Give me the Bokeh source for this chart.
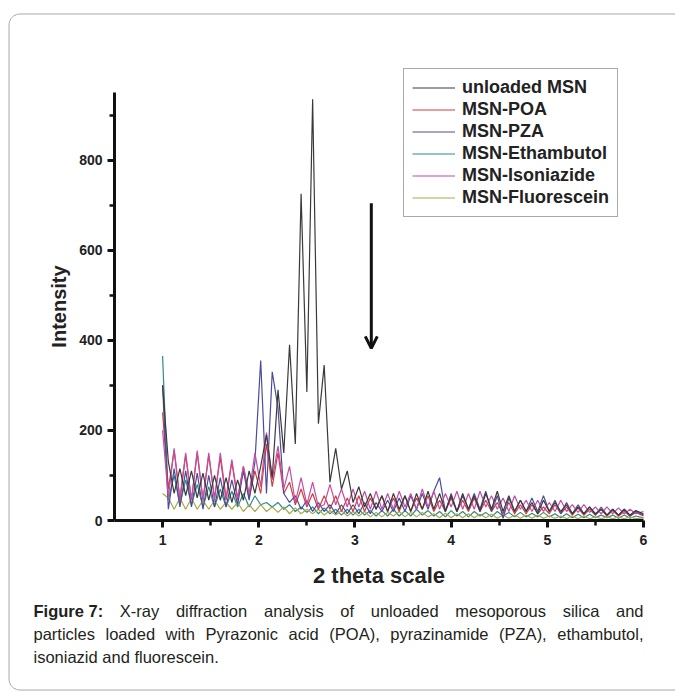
import math
from bokeh.plotting import figure
from bokeh.models import Label, Legend, LegendItem, FixedTicker, Range1d, Arrow, OpenHead
from bokeh.embed import file_html
from bokeh.resources import INLINE

# ---------------- data ----------------
two_theta = [1.00, 1.06, 1.12, 1.18, 1.24, 1.30, 1.36, 1.42, 1.48, 1.54, 1.60, 1.66,
             1.72, 1.78, 1.84, 1.90, 1.96, 2.02, 2.08, 2.14, 2.20, 2.26, 2.32, 2.38,
             2.44, 2.50, 2.56, 2.62, 2.68, 2.74, 2.80, 2.86, 2.92, 2.98, 3.04, 3.10,
             3.16, 3.22, 3.28, 3.34, 3.40, 3.46, 3.52, 3.58, 3.64, 3.70, 3.76, 3.82,
             3.88, 3.94, 4.00, 4.06, 4.12, 4.18, 4.24, 4.30, 4.36, 4.42, 4.48, 4.54,
             4.60, 4.66, 4.72, 4.78, 4.84, 4.90, 4.96, 5.02, 5.08, 5.14, 5.20, 5.26,
             5.32, 5.38, 5.44, 5.50, 5.56, 5.62, 5.68, 5.74, 5.80, 5.86, 5.92, 6.00]

unloaded_msn = [300, 130, 60, 115, 55, 110, 50, 105, 45, 100, 45, 95,
                40, 90, 45, 110, 60, 120, 190, 95, 290, 150, 390, 170,
                725, 285, 935, 215, 345, 85, 160, 70, 110, 40, 75, 30,
                60, 25, 55, 20, 60, 25, 55, 20, 60, 25, 65, 25,
                60, 20, 55, 20, 60, 25, 55, 20, 60, 25, 65, 20,
                55, 20, 45, 20, 40, 15, 45, 20, 40, 20, 35, 15,
                30, 15, 30, 15, 25, 12, 25, 12, 25, 12, 22, 15]

msn_poa = [240, 70, 155, 45, 145, 45, 150, 45, 145, 50, 140, 45,
           130, 45, 120, 50, 110, 60, 170, 75, 150, 60, 85, 35,
           70, 30, 60, 25, 55, 25, 55, 20, 50, 20, 55, 20,
           50, 25, 55, 20, 50, 20, 55, 20, 50, 25, 55, 20,
           45, 20, 50, 20, 45, 20, 50, 20, 45, 20, 40, 15,
           40, 15, 35, 15, 35, 15, 30, 15, 35, 15, 30, 12,
           28, 12, 25, 12, 25, 10, 22, 10, 20, 10, 18, 10]

msn_pza = [300, 25, 115, 30, 110, 30, 105, 25, 100, 30, 95, 30,
           90, 35, 110, 45, 130, 355, 60, 330, 250, 60, 40, 55,
           25, 45, 20, 40, 20, 35, 15, 35, 15, 35, 15, 40,
           15, 40, 20, 45, 20, 50, 20, 55, 25, 60, 25, 65,
           95, 20, 60, 20, 55, 25, 60, 25, 65, 20, 55, 5,
           50, 20, 45, 20, 50, 20, 55, 20, 45, 15, 40, 15,
           35, 15, 30, 12, 30, 12, 25, 12, 25, 10, 20, 12]

msn_ethambutol = [365, 45, 100, 35, 90, 35, 80, 30, 75, 30, 70, 30,
                  65, 30, 60, 30, 55, 35, 40, 30, 40, 25, 35, 20,
                  30, 18, 30, 15, 28, 15, 25, 12, 25, 12, 25, 12,
                  22, 10, 22, 10, 25, 10, 22, 10, 25, 12, 22, 10,
                  20, 8, 22, 10, 20, 8, 20, 10, 18, 8, 20, 10,
                  18, 8, 18, 8, 16, 8, 18, 8, 15, 6, 15, 6,
                  14, 6, 14, 6, 12, 6, 12, 5, 12, 5, 10, 6]

msn_isoniazide = [200, 50, 160, 50, 150, 45, 155, 45, 150, 45, 150, 50,
                  135, 50, 120, 60, 150, 75, 195, 90, 165, 70, 120, 40,
                  95, 35, 85, 30, 35, 80, 35, 70, 30, 70, 30, 65,
                  25, 65, 25, 60, 25, 65, 30, 60, 25, 70, 30, 65,
                  25, 60, 30, 65, 25, 60, 25, 65, 30, 55, 25, 50,
                  20, 55, 25, 45, 20, 45, 20, 40, 20, 45, 20, 35,
                  18, 35, 18, 30, 15, 30, 15, 28, 15, 25, 15, 20]

msn_fluorescein = [60, 50, 25, 50, 25, 50, 25, 45, 25, 45, 25, 40,
                   25, 40, 20, 35, 20, 35, 20, 30, 18, 30, 15, 28,
                   15, 25, 15, 25, 12, 22, 12, 22, 10, 20, 10, 20,
                   8, 18, 8, 18, 10, 20, 8, 18, 8, 18, 8, 15,
                   6, 16, 6, 15, 6, 15, 6, 14, 6, 14, 5, 12,
                   5, 12, 5, 12, 5, 12, 5, 10, 5, 10, 4, 10,
                   4, 10, 4, 8, 4, 8, 4, 8, 4, 8, 4, 6]

series_names = ["unloaded MSN", "MSN-POA", "MSN-PZA", "MSN-Ethambutol",
                "MSN-Isoniazide", "MSN-Fluorescein"]
series_values = [unloaded_msn, msn_poa, msn_pza, msn_ethambutol,
                 msn_isoniazide, msn_fluorescein]
series_colors = ["#3a3a3a", "#d23c3c", "#4b4b9e", "#2e8b8b", "#c24fa2", "#a9a94a"]

x_ticks = [1, 2, 3, 4, 5, 6]
x_minor = [1.5, 2.5, 3.5, 4.5, 5.5]
y_ticks = [0, 200, 400, 600, 800]
y_minor = [100, 300, 500, 700, 900]
x_bounds = (0.5, 6.0)
y_bounds = (0, 950)

arrow_x, arrow_top, arrow_tip = 3.17, 704, 382

caption_line1 = [("Figure 7:", True), ("X-ray", False), ("diffraction", False),
                 ("analysis", False), ("of", False), ("unloaded", False),
                 ("mesoporous", False), ("silica", False), ("and", False)]
caption_line2 = ["particles", "loaded", "with", "Pyrazonic", "acid", "(POA),",
                 "pyrazinamide", "(PZA),", "ethambutol,"]
caption_line3 = "isoniazid and fluorescein."

# ---------------- page geometry ----------------
CANVAS_W, CANVAS_H = 675, 691
AX_LEFT, AX_RIGHT, AX_TOP, AX_BOTTOM = 114, 643, 92, 520   # page pixels of the axes box
PXX = (AX_RIGHT - AX_LEFT) / (x_bounds[1] - x_bounds[0])
PXY = (AX_BOTTOM - AX_TOP) / (y_bounds[1] - y_bounds[0])


def dx(px):
    return x_bounds[0] + (px - AX_LEFT) / PXX


def dy(py):
    return y_bounds[0] + (AX_BOTTOM - py) / PXY


FONT = "Liberation Sans"
p = figure(width=CANVAS_W, height=CANVAS_H, output_backend="svg", toolbar_location=None,
           x_range=Range1d(dx(0), dx(CANVAS_W)),
           y_range=Range1d(dy(CANVAS_H), dy(0)),
           min_border=0, min_border_left=0, min_border_right=0, min_border_top=0,
           min_border_bottom=0)
p.outline_line_color = None
p.grid.visible = False
p.background_fill_color = "white"
p.border_fill_color = "white"

# rounded page frame, open to the right (the original is cropped there)
FL, FT, FB, FR, RAD = 8.5, 13.5, 689.5, 720, 11
frame_px = [(FR, FT)]
for k in range(0, 11):
    a = math.pi / 2 + k * (math.pi / 2) / 10
    frame_px.append((FL + RAD + RAD * math.cos(a), FT + RAD - RAD * math.sin(a)))
for k in range(0, 11):
    a = math.pi + k * (math.pi / 2) / 10
    frame_px.append((FL + RAD + RAD * math.cos(a), FB - RAD - RAD * math.sin(a)))
frame_px.append((FR, FB))
p.line([dx(a) for a, b in frame_px], [dy(b) for a, b in frame_px],
       line_color="#a8a8a8", line_width=1)

p.xaxis.ticker = FixedTicker(ticks=x_ticks, minor_ticks=x_minor)
p.yaxis.ticker = FixedTicker(ticks=y_ticks, minor_ticks=y_minor)
p.xaxis.fixed_location = y_bounds[0]
p.yaxis.fixed_location = x_bounds[0]
p.xaxis.bounds = x_bounds
p.yaxis.bounds = y_bounds
p.xaxis.axis_label = "2 theta scale"
p.yaxis.axis_label = "Intensity"
for ax in (p.xaxis[0], p.yaxis[0]):
    ax.axis_line_width = 3
    ax.axis_line_color = "#111"
    ax.major_tick_line_width = 3
    ax.major_tick_line_color = "#111"
    ax.minor_tick_line_width = 2.5
    ax.minor_tick_line_color = "#111"
    ax.major_tick_out = 7
    ax.major_tick_in = 0
    ax.minor_tick_out = 5
    ax.minor_tick_in = 0
    ax.major_label_text_font = FONT
    ax.major_label_text_font_size = "14px"
    ax.major_label_text_font_style = "bold"
    ax.major_label_text_color = "#222"
    ax.axis_label_text_font = FONT
    ax.axis_label_text_font_style = "bold"
    ax.axis_label_text_color = "#222"
p.xaxis.axis_label_text_font_size = "22px"
p.yaxis.axis_label_text_font_size = "20px"
p.xaxis.major_label_standoff = 7
p.yaxis.major_label_standoff = 5
p.xaxis.axis_label_standoff = 15
p.yaxis.axis_label_standoff = 6

renderers = {}
draw_order = [3, 5, 1, 2, 4, 0]
for i in draw_order:
    renderers[i] = p.line(two_theta, series_values[i], line_color=series_colors[i],
                          line_width=1.2)

# legend box: left 403, bottom 217 (page px); location is relative to frame bottom-left
legend = Legend(items=[LegendItem(label=series_names[i], renderers=[renderers[i]])
                       for i in range(len(series_names))],
                location=(403, CANVAS_H - 217), margin=0,
                padding=8, spacing=1,
                glyph_width=43, glyph_height=21, label_height=21, label_standoff=7,
                border_line_color="#555", border_line_width=1.5,
                background_fill_color="white", background_fill_alpha=1,
                label_text_font=FONT, label_text_font_style="bold",
                label_text_font_size="18px", label_text_color="#222")
p.add_layout(legend)

p.add_layout(Arrow(end=OpenHead(size=12, line_width=3, line_color="#111"),
                   x_start=arrow_x, y_start=arrow_top, x_end=arrow_x, y_end=arrow_tip,
                   line_width=3, line_color="#111"))

# ---------------- caption (justified like the original) ----------------
REG = {" ": 278, "(": 333, ")": 333, ",": 278, "-": 333, ".": 278, ":": 278, "7": 556,
       "A": 667, "O": 778, "P": 667, "X": 667, "Z": 611,
       "a": 556, "b": 556, "c": 500, "d": 556, "e": 556, "f": 278, "g": 556, "h": 556,
       "i": 222, "l": 222, "m": 833, "n": 556, "o": 556, "p": 556, "r": 333, "s": 500,
       "t": 278, "u": 556, "w": 722, "y": 500, "z": 500}
BOLD = {" ": 278, "F": 611, "i": 278, "g": 611, "u": 611, "r": 389, "e": 556,
        "7": 556, ":": 333}
CAP_SIZE = 16.5


def tw(s, bold):
    table = BOLD if bold else REG
    return sum(table.get(c, 556) for c in s) * CAP_SIZE / 1000.0


def cap_label(text, px, py, bold=False):
    p.add_layout(Label(x=dx(px), y=dy(py), text=text, text_font=FONT,
                       text_font_size=f"{CAP_SIZE}px",
                       text_font_style="bold" if bold else "normal",
                       text_color="#231f20", text_align="left", text_baseline="middle"))


def justify(words, py, left=33, right=643):
    widths = [tw(w, b) for w, b in words]
    gap = (right - left - sum(widths)) / (len(words) - 1)
    x = left
    for (w, b), wd in zip(words, widths):
        cap_label(w, x, py, b)
        x += wd + gap


justify(caption_line1, 610)
justify([(w, False) for w in caption_line2], 633)
cap_label(caption_line3, 33, 656)

open("out.html", "w").write(file_html(p, INLINE))
